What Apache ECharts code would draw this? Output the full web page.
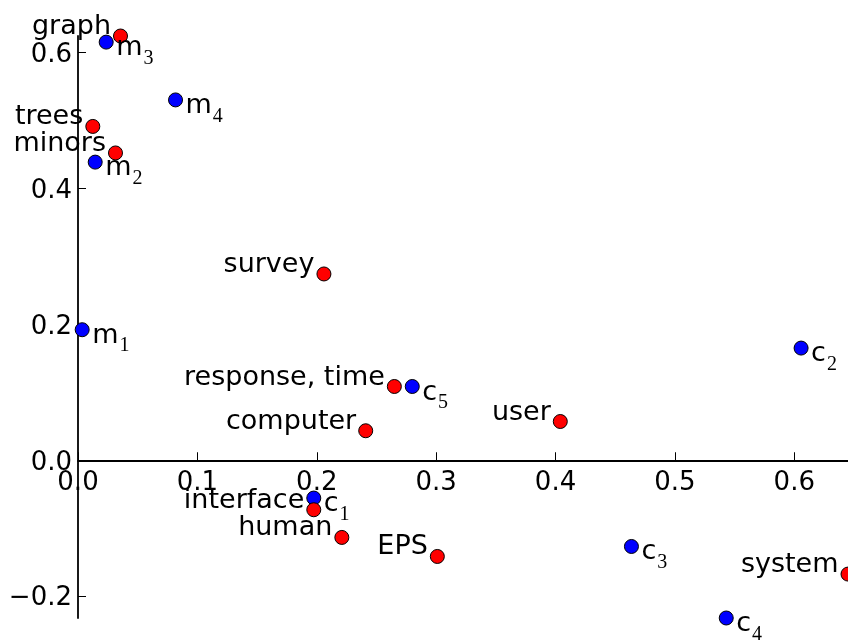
<!DOCTYPE html>
<html>
<head>
<meta charset="utf-8">
<script src="https://cdn.jsdelivr.net/npm/echarts@6/dist/echarts.min.js"></script>
<style>
  html, body { margin: 0; padding: 0; background: #fff; }
  #chart { width: 848px; height: 642px; }
</style>
</head>
<body>
<div id="chart"></div>
<script>
// Term coordinates (red points)
const termNames = ['graph', 'trees', 'minors', 'survey', 'response, time', 'computer', 'user', 'interface', 'human', 'EPS', 'system'];
const termX = [0.0356, 0.0124, 0.0314, 0.206, 0.265, 0.241, 0.404, 0.1975, 0.221, 0.301, 0.645];
const termY = [0.624, 0.491, 0.452, 0.274, 0.1085, 0.0434, 0.057, -0.0728, -0.1135, -0.1415, -0.1674];

// Document coordinates (blue points): letter plus subscript index
const docLetters = ['m', 'm', 'm', 'm', 'c', 'c', 'c', 'c', 'c'];
const docIndex = ['1', '2', '3', '4', '1', '2', '3', '4', '5'];
const docX = [0.0035, 0.0144, 0.0236, 0.0817, 0.1975, 0.6057, 0.4636, 0.543, 0.280];
const docY = [0.192, 0.4385, 0.615, 0.530, -0.0556, 0.165, -0.1268, -0.232, 0.1085];

// Tick positions
const xTicks = [0, 0.1, 0.2, 0.3, 0.4, 0.5, 0.6];
const yTicks = [-0.2, 0, 0.2, 0.4, 0.6];

const allX = termX.concat(docX);
const allY = termY.concat(docY);
const xMax = Math.max.apply(null, allX);
const yMin = Math.min.apply(null, allY);
const yMax = Math.max.apply(null, allY);

const FONT = 'DejaVu Sans';
const tickFmt = v => v.toFixed(1).replace('-', '\u2212');

const GRID = { left: 78, right: 0, top: 36, bottom: 24 };

const chart = echarts.init(document.getElementById('chart'), null, { renderer: 'canvas' });

const option = {
  animation: false,
  backgroundColor: '#ffffff',
  grid: Object.assign({ containLabel: false, outerBoundsMode: 'none' }, GRID),
  xAxis: {
    type: 'value',
    min: 0,
    max: xMax,
    splitLine: { show: false },
    axisLine: { onZero: true, lineStyle: { color: '#000', width: 1.8 } },
    axisTick: { inside: true, length: 8, lineStyle: { color: '#000', width: 1 }, customValues: xTicks },
    axisLabel: { customValues: xTicks, formatter: tickFmt, fontFamily: FONT, fontSize: 26, color: '#000', margin: 10 }
  },
  yAxis: {
    type: 'value',
    min: yMin,
    max: yMax,
    splitLine: { show: false },
    axisLine: { onZero: true, lineStyle: { color: '#000', width: 1.8 } },
    axisTick: { inside: true, length: 8, lineStyle: { color: '#000', width: 1 }, customValues: yTicks },
    axisLabel: {
      customValues: yTicks,
      formatter: v => '{v|' + tickFmt(v) + '}',
      margin: 6,
      rich: { v: { fontFamily: FONT, fontSize: 26, lineHeight: 26, color: '#000', padding: [5, 0, 0, 0] } }
    }
  },
  series: [
    {
      name: 'documents',
      type: 'scatter',
      clip: false,
      symbol: 'circle',
      symbolSize: 14,
      data: docX.map((x, i) => ({ value: [x, docY[i]], name: docLetters[i] + docIndex[i] })),
      itemStyle: { color: '#0000ff', borderColor: '#000', borderWidth: 1, opacity: 1 },
      emphasis: { disabled: true },
      label: {
        show: true,
        position: [17.5, 0],
        align: 'left',
        verticalAlign: 'top',
        formatter: p => '{a|' + docLetters[p.dataIndex] + '}{b|' + docIndex[p.dataIndex] + '}',
        rich: {
          a: { fontFamily: FONT, fontSize: 27, lineHeight: 27, color: '#000', verticalAlign: 'top' },
          b: { fontFamily: 'Liberation Serif', fontSize: 20, lineHeight: 20, color: '#000', verticalAlign: 'top', padding: [14, 0, 0, 1] }
        }
      }
    },
    {
      name: 'terms',
      type: 'scatter',
      clip: false,
      symbol: 'circle',
      symbolSize: 14,
      data: termX.map((x, i) => ({ value: [x, termY[i]], name: termNames[i] })),
      itemStyle: { color: '#ff0000', borderColor: '#000', borderWidth: 1, opacity: 1 },
      emphasis: { disabled: true },
      label: {
        show: true,
        position: [-2, 12],
        align: 'right',
        verticalAlign: 'bottom',
        formatter: p => p.name,
        fontFamily: FONT,
        fontSize: 27,
        color: '#000'
      }
    }
  ]
};

chart.setOption(option);

// Keep the x tick labels just under the zero line: if the labels stay at
// the grid's bottom edge, pull them up by the distance to y = 0.
const zeroY = chart.convertToPixel({ yAxisIndex: 0 }, 0);
const bottomY = 642 - GRID.bottom;
chart.setOption({ xAxis: { axisLabel: { margin: 10 - (bottomY - zeroY) } } });
</script>
</body>
</html>
